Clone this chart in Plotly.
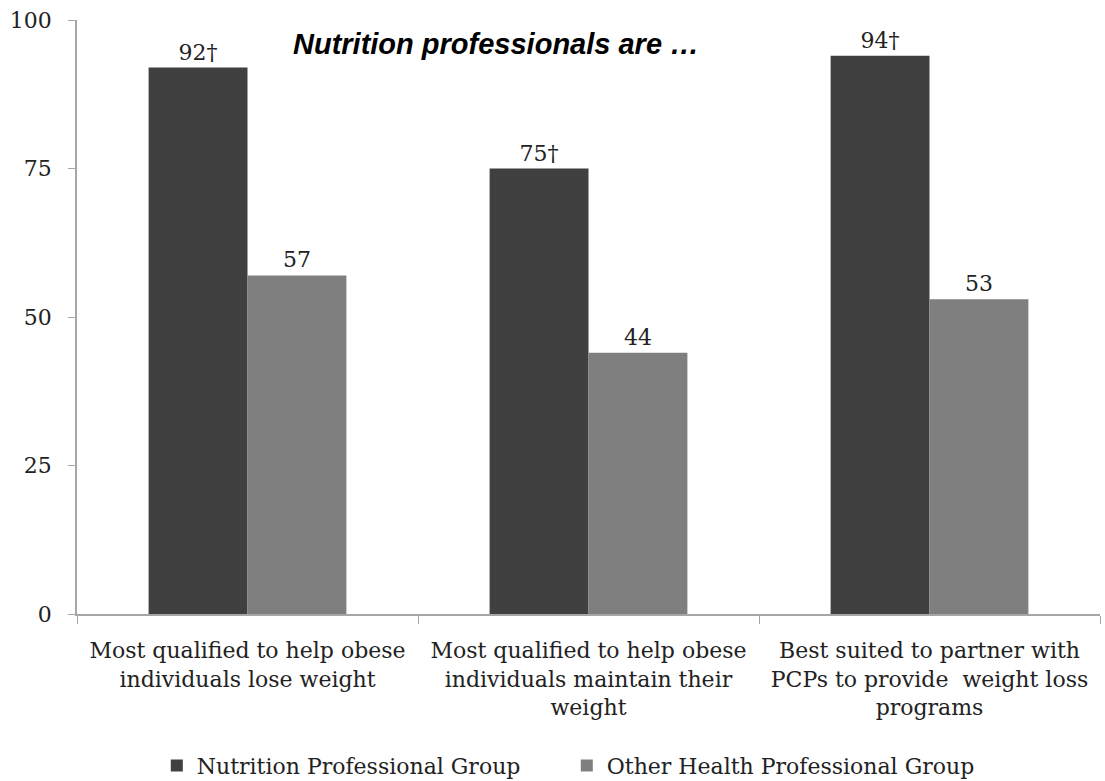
import plotly.graph_objects as go

categories = [
    "Most qualified to help obese<br>individuals lose weight",
    "Most qualified to help obese<br>individuals maintain their<br>weight",
    "Best suited to partner with<br>PCPs to provide  weight loss<br>programs",
]
nutrition = [92, 75, 94]
nutrition_labels = ["92†", "75†", "94†"]
other = [57, 44, 53]
other_labels = ["57", "44", "53"]
y_ticks = [0, 25, 50, 75, 100]

SERIF = "DejaVu Serif"
FS = 22

fig = go.Figure()
fig.add_trace(go.Bar(
    x=categories, y=nutrition, name="Nutrition Professional Group",
    marker=dict(color="#404040", line=dict(width=0)),
    text=nutrition_labels, textposition="outside", cliponaxis=False,
    textfont=dict(family=SERIF, size=FS, color="#222222"),
))
fig.add_trace(go.Bar(
    x=categories, y=other, name="Other Health Professional Group",
    marker=dict(color="#7f7f7f", line=dict(width=0)),
    text=other_labels, textposition="outside", cliponaxis=False,
    textfont=dict(family=SERIF, size=FS, color="#222222"),
))

fig.update_layout(
    width=1105, height=781,
    margin=dict(l=77, r=5, t=20, b=167, autoexpand=False),
    plot_bgcolor="white", paper_bgcolor="white",
    barmode="group", bargap=0.42, bargroupgap=0,
    font=dict(family=SERIF, size=FS, color="#222222"),
    showlegend=True,
    legend=dict(orientation="h", x=0.078, xanchor="left", y=-0.22, yanchor="top",
                font=dict(family=SERIF, size=FS, color="#222222"),
                itemwidth=30, entrywidth=365, entrywidthmode="pixels",
                traceorder="normal"),
    xaxis=dict(showline=True, linecolor="#a6a6a6", linewidth=1.5,
               ticks="outside", tickcolor="#a6a6a6", ticklen=8,
               tickson="boundaries", showgrid=False, automargin=False,
               ticklabelstandoff=16,
               tickfont=dict(family=SERIF, size=FS, color="#222222")),
    yaxis=dict(range=[0, 100], tickvals=y_ticks, showline=True, linecolor="#a6a6a6",
               linewidth=1.5, ticks="outside", tickcolor="#a6a6a6", ticklen=7,
               showgrid=False, zeroline=False, automargin=False,
               ticklabelstandoff=12,
               tickfont=dict(family=SERIF, size=FS, color="#222222")),
    annotations=[dict(
        text="<b><i>Nutrition professionals are …</i></b>",
        xref="paper", yref="paper", x=0.41, y=0.96, xanchor="center", yanchor="middle",
        showarrow=False, font=dict(family="Liberation Sans", size=29, color="black"),
    )],
)

fig.write_html("out.html")
